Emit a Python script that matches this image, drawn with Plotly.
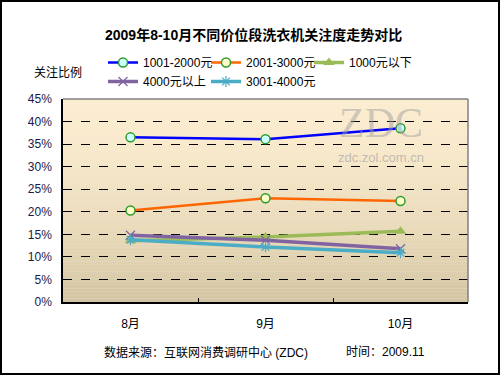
import plotly.graph_objects as go

categories = ["8月", "9月", "10月"]
s_1001_2000 = [36.5, 36.1, 38.5]
s_2001_3000 = [20.3, 23.0, 22.4]
s_below_1000 = [13.6, 14.4, 15.7]
s_above_4000 = [14.8, 13.7, 11.8]
s_3001_4000 = [13.8, 12.2, 10.9]
y_ticks = list(range(0, 50, 5))
y_tick_labels = [f"{v}%" for v in y_ticks]

FONT = "Liberation Sans, Arial, Noto Sans CJK SC, sans-serif"
W, H = 500, 375
L, R, T, B = 63, 32, 99, 73
PW, PH = W - L - R, H - T - B

def px(x):
    return (x - L) / PW

def py(y):
    return (H - B - y) / PH

fig = go.Figure()
series = [
    ("1001-2000元", s_1001_2000, "#0000FF", 2.5, dict(symbol="circle", size=9, color="#CCFFFF", line=dict(color="#2E9B2E", width=1.5))),
    ("2001-3000元", s_2001_3000, "#FF6600", 2.5, dict(symbol="circle", size=9, color="#FFFFCC", line=dict(color="#2E9B2E", width=1.5))),
    ("1000元以下", s_below_1000, "#9BBB59", 3.5, dict(symbol="triangle-up", size=10, color="#9BBB59", line=dict(width=0))),
    ("4000元以上", s_above_4000, "#8064A2", 3.5, dict(symbol="x-thin-open", size=9, color="#8064A2", line=dict(color="#8064A2", width=1.2))),
    ("3001-4000元", s_3001_4000, "#4BACC6", 3.5, dict(symbol="asterisk-open", size=9, color="#4BACC6", line=dict(color="#4BACC6", width=1.2))),
]
for name, vals, color, w, marker in series:
    fig.add_trace(go.Scatter(x=categories, y=vals, name=name, mode="lines+markers",
                             line=dict(color=color, width=w), marker=marker))

# gradient background bands
n = 60
top = (253, 237, 208)
bot = (212, 198, 164)
shapes = []
for i in range(n):
    t = i / (n - 1)
    c = tuple(int(round(top[k] + (bot[k] - top[k]) * (t ** 1.6))) for k in range(3))
    shapes.append(dict(type="rect", xref="x domain", yref="y domain", x0=0, x1=1,
                       y0=1 - (i + 1) / n, y1=1 - i / n, layer="below",
                       fillcolor=f"rgb{c}", line=dict(width=0)))
# top and right gray frame
shapes.append(dict(type="line", xref="x domain", yref="y domain", x0=0, x1=1, y0=1, y1=1,
                   line=dict(color="#808080", width=1.5), layer="above"))
shapes.append(dict(type="line", xref="x domain", yref="y domain", x0=1, x1=1, y0=0, y1=1,
                   line=dict(color="#808080", width=1.5), layer="above"))
# outer border
shapes.append(dict(type="rect", xref="paper", yref="paper", x0=px(1), x1=px(499), y0=py(374), y1=py(1),
                   line=dict(color="black", width=2), fillcolor="rgba(0,0,0,0)", layer="above"))

def ann(text, x, y, size=12, color="black", family=FONT, xa="center", ya="middle"):
    return dict(text=text, x=px(x), y=py(y), xref="paper", yref="paper", showarrow=False,
                xanchor=xa, yanchor=ya, font=dict(size=size, color=color, family=family))

annotations = [
    ann("<b>2009年8-10月不同价位段洗衣机关注度走势对比</b>", 253, 35, size=14),
    ann("关注比例", 58, 73),
    ann("数据来源：互联网消费调研中心 (ZDC)", 102, 352, xa="left"),
    ann("时间：2009.11", 344, 352, xa="left"),
    ann("ZDC", 381, 148, size=42, color="rgba(160,160,160,0.5)", family="Liberation Serif, serif", ya="bottom"),
    ann("zdc.zol.com.cn", 381, 148, size=13, color="rgba(160,160,160,0.65)", ya="top"),
]

fig.update_layout(
    width=W, height=H, margin=dict(l=L, r=R, t=T, b=B, autoexpand=False),
    paper_bgcolor="white", plot_bgcolor="#EFE6D2",
    font=dict(family=FONT, size=12, color="black"),
    shapes=shapes, annotations=annotations,
    showlegend=True,
    legend=dict(orientation="h", x=px(103), y=py(48), xanchor="left", yanchor="top",
                entrywidth=58, entrywidthmode="pixels", font=dict(size=12, family=FONT),
                bgcolor="rgba(0,0,0,0)", itemwidth=30, tracegroupgap=0),
    xaxis=dict(range=[-0.5, 2.5], showline=True, linecolor="black", linewidth=1.5, showgrid=False,
               ticks="inside", ticklen=4, tickcolor="black", tickson="boundaries",
               tickfont=dict(size=12), ticklabelstandoff=10, fixedrange=True),
    yaxis=dict(range=[0, 45], tickvals=y_ticks, ticktext=y_tick_labels,
               showline=True, linecolor="black", linewidth=1.5,
               showgrid=True, gridcolor="black", griddash="dash", gridwidth=1,
               zeroline=False, ticks="", tickfont=dict(size=12, color="#1a1a4a"),
               ticklabelstandoff=7, fixedrange=True),
)
fig.write_html("out.html", config={"displayModeBar": False},
               post_script="document.body.style.margin='0';document.body.style.overflow='hidden';")
